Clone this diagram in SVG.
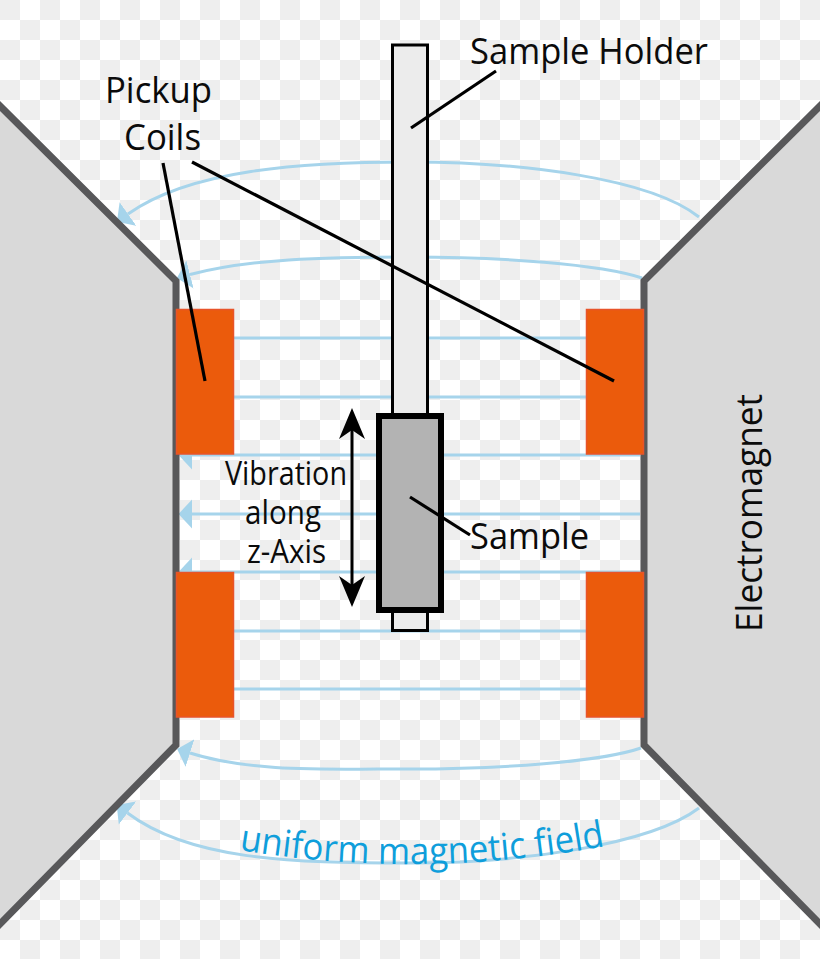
<svg xmlns="http://www.w3.org/2000/svg" width="820" height="959" viewBox="0 0 820 959">
<style>
text{font-family:"Open Sans","Noto Sans","Liberation Sans",sans-serif;fill:#0b0b0b}
.t36{font-size:37px}
.t30{font-size:32px}
.field{fill:none;stroke:#a6d4eb;stroke-width:3;marker-end:url(#head)}
.magnet{fill:#d9d9d9;stroke:#58585a;stroke-width:7}
.coil{fill:#eb5b0c;stroke:#e8542a;stroke-width:1.5}
.leader{fill:none;stroke:#000;stroke-width:3.200}
.bar{fill:#ececec;stroke:#000;stroke-width:3}
</style>
<defs>
<pattern id="checker" width="40" height="40" patternUnits="userSpaceOnUse">
<rect width="40" height="40" fill="#fff"/>
<rect width="20" height="20" fill="#eeeeee"/>
<rect x="20" y="20" width="20" height="20" fill="#eeeeee"/>
</pattern>
<marker id="head" markerUnits="userSpaceOnUse" markerWidth="15" markerHeight="30" viewBox="0 -15 15 30" refX="0" refY="0" orient="auto">
<path d="M0-14.5L13.5 0L0 14.5Z" fill="#a6d4eb"/>
</marker>
</defs>
<rect id="background" width="820" height="959" fill="url(#checker)"/>
<g id="field-lines">
<path class="field" d="M699 217C650 178 520 162 410 162C300 162 190 170 128 214"/>
<path class="field" d="M642 278C600 264 500 257 410 257C320 257 250 259 190 274.500"/>
<path class="field" d="M640 338H192"/>
<path class="field" d="M640 397H192"/>
<path class="field" d="M640 455H192"/>
<path class="field" d="M640 514H192"/>
<path class="field" d="M640 572H192"/>
<path class="field" d="M640 631H192"/>
<path class="field" d="M640 689H192"/>
<path class="field" d="M641 748C600 762 500 769 410 769C320 769 250 772 190 753"/>
<path class="field" d="M699 808C650 845 520 863 410 863C290 863 190 860 127.500 813"/>
</g>
<g id="electromagnet-left"><path class="magnet" d="M-6 100L176 281V745L-6 930Z"/></g>
<g id="electromagnet-right"><path class="magnet" d="M826 100L644 281V745L826 930Z"/></g>
<g id="coil-top-left"><rect class="coil" x="176.500" y="309.500" width="57" height="144.500"/></g>
<g id="coil-bottom-left"><rect class="coil" x="176.500" y="572.500" width="57" height="144.500"/></g>
<g id="coil-top-right"><rect class="coil" x="586.500" y="309.500" width="57" height="144.500"/></g>
<g id="coil-bottom-right"><rect class="coil" x="586.500" y="572.500" width="57" height="144.500"/></g>
<g id="sample-holder">
<rect class="bar" x="392.500" y="45" width="35" height="372"/>
<rect class="bar" x="392.500" y="606" width="35" height="24.500"/>
</g>
<g id="sample"><rect x="379" y="416" width="62" height="194" fill="#b3b3b3" stroke="#000" stroke-width="6"/></g>
<g id="vibration-arrow">
<path d="M352 425V590" fill="none" stroke="#000" stroke-width="3"/>
<path d="M352 408L365 439L352 430L339 439Z"/>
<path d="M352 607L365 576L352 585L339 576Z"/>
</g>
<g id="connectors">
<path class="leader" d="M163 163L205 381"/>
<path class="leader" d="M192 162L614 381"/>
<path class="leader" d="M496 71L411 128"/>
<path class="leader" d="M410 497L470 535"/>
</g>
<g id="labels">
<text class="t36" x="105" y="103" textLength="107" lengthAdjust="spacingAndGlyphs">Pickup</text>
<text class="t36" x="124" y="150" textLength="77" lengthAdjust="spacingAndGlyphs">Coils</text>
<text class="t36" x="470" y="64" textLength="238" lengthAdjust="spacingAndGlyphs">Sample Holder</text>
<text class="t36" x="470" y="549" textLength="119" lengthAdjust="spacingAndGlyphs">Sample</text>
<text class="t30" x="225" y="485" textLength="122" lengthAdjust="spacingAndGlyphs">Vibration</text>
<text class="t30" x="245" y="524" textLength="76" lengthAdjust="spacingAndGlyphs">along</text>
<text class="t30" x="247" y="563" textLength="79" lengthAdjust="spacingAndGlyphs">z-Axis</text>
<text class="t36" transform="translate(762 632) rotate(-90)" textLength="238" lengthAdjust="spacingAndGlyphs">Electromagnet</text>
<path id="curve" d="M239 850Q420 880 606 846" fill="none"/>
<text style="font-size:37px;fill:#0f9edb"><textPath href="#curve" textLength="368" lengthAdjust="spacingAndGlyphs">uniform magnetic field</textPath></text>
</g>
</svg>
